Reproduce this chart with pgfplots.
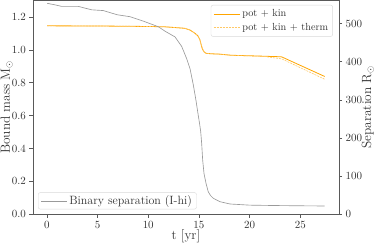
\documentclass[border=0pt]{standalone}
\usepackage{pgfplots}
\pgfplotsset{compat=1.18}
\definecolor{mplorange}{HTML}{FFA500}
\definecolor{sepgray}{HTML}{9A9A9A}
\pgfplotstableread{
t sep
0.03 553
0.8 549
1.45 545
3.09 545
4.41 536
5.56 534
6.94 523
8.19 518
9.48 506.6
10.99 491.7
11.65 480
12.64 465
13.3 440
13.79 408
14.12 382
14.44 340
14.7 300
14.9 265
15.05 240
15.17 218
15.27 186
15.37 142
15.5 107
15.7 81
15.92 59
16.15 49
16.42 42
17.08 33
18.07 27
20.0 24
22.5 23
25.0 22.3
27.41 21.8
}\septab
\pgfplotstableread{
t m
0.03 1.146
5 1.145
10 1.142
11.65 1.140
13.6 1.131
14.1 1.121
14.6 1.101
14.9 1.085
15.1 1.060
15.2 1.036
15.33 1.008
15.5 0.988
15.7 0.979
16.2 0.976
17.0 0.974
18.2 0.967
20.5 0.963
23.0 0.958
23.17 0.957
27.41 0.838
}\pktab
\pgfplotstableread{
t m
0.03 1.146
5 1.145
10 1.142
11.65 1.140
13.6 1.131
14.1 1.121
14.6 1.101
14.9 1.085
15.1 1.060
15.2 1.036
15.33 1.008
15.5 0.988
15.7 0.979
16.2 0.976
17.0 0.974
18.2 0.967
20.5 0.962
21.4 0.960
23.17 0.945
27.41 0.821
}\pkttab
\begin{document}
\begin{tikzpicture}
\pgfplotsset{
 common/.style={width=305.7pt,height=214.3pt,scale only axis,
  xmin=-1.37,xmax=28.79, xtick={0,5,10,15,20,25},
  tick align=outside, major tick length=3.5pt,
  axis line style={black!65}, tick style={black!65,line width=0.6pt},
  tick label style={font=\fontsize{11}{13}\selectfont, text=black!80},
  label style={font=\fontsize{13.3}{15}\selectfont, text=black!80},
  legend style={text=black!80, rounded corners=2pt, draw=black!15, fill=white, fill opacity=0.8, text opacity=1, inner xsep=2.5pt},
  legend cell align=left,
  legend image code/.code={\path (0pt,0pt) -- (26pt,0pt);\draw[##1] (0pt,0pt) -- (22pt,0pt);},
 }
}
\begin{axis}[common, name=ax, ymin=0, ymax=1.303,
  ytick={0,0.2,0.4,0.6,0.8,1.0,1.2},
  yticklabel style={/pgf/number format/fixed, /pgf/number format/fixed zerofill, /pgf/number format/precision=1},
  xtick pos=bottom, ytick pos=left,
  xlabel={t [yr]}, ylabel={Bound mass M$_\odot$},
  xlabel style={at={(axis description cs:0.5,-0.104)}, anchor=center},
  ylabel style={at={(axis description cs:-0.086,0.5)}, anchor=center},
  legend style={at={(0.981,0.977)}, anchor=north east, font=\fontsize{10.3}{12}\selectfont, inner ysep=2.5pt, row sep=1pt}]
\addplot[mplorange, line width=0.8pt] table[x=t,y=m] {\pktab};
\addlegendentry{pot + kin}
\addplot[mplorange!60, line width=0.6pt, dashed, dash pattern=on 2pt off 1pt] table[x=t,y=m] {\pkttab};
\addlegendentry{pot + kin + therm}
\end{axis}
\begin{axis}[common, at={(ax.south west)}, anchor=south west, ymin=0, ymax=561.7,
  axis x line=none, axis y line*=right,
  ytick={0,100,200,300,400,500},
  ylabel={Separation R$_\odot$},
  ylabel style={at={(axis description cs:1.0955,0.5)}, anchor=center, rotate=0},
  legend style={at={(0.0164,0.0233)}, anchor=south west, font=\fontsize{12}{14}\selectfont, inner ysep=1pt}]
\addplot[sepgray, line width=0.65pt] table[x=t,y=sep] {\septab};
\addlegendentry{Binary separation (I-hi)}
\end{axis}
\pgfresetboundingbox
\path ([xshift=-33pt,yshift=-29.7pt]ax.south west) rectangle ([xshift=35.3pt]ax.north east);
\end{tikzpicture}
\end{document}
